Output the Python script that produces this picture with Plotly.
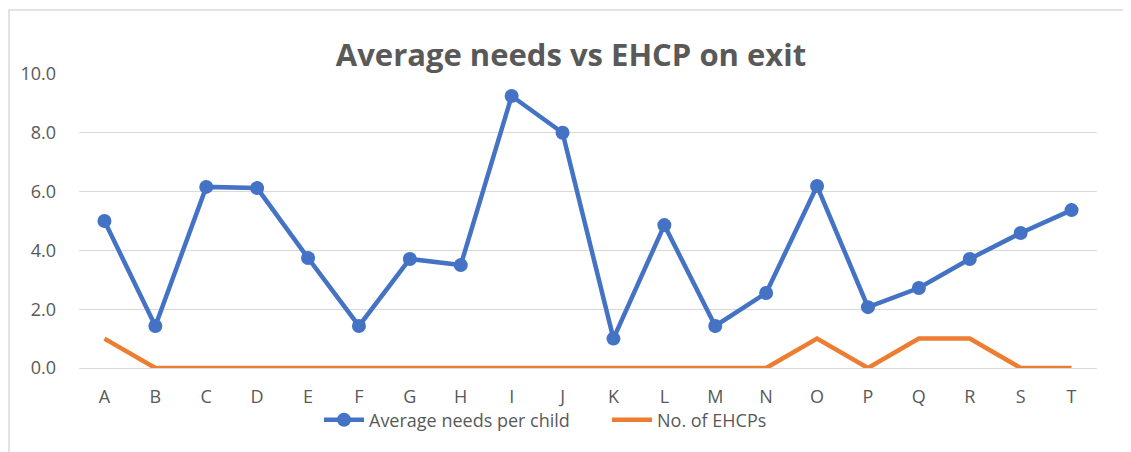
import plotly.graph_objects as go

categories = list("ABCDEFGHIJKLMNOPQRST")
avg_needs = [5.0, 1.43, 6.16, 6.12, 3.74, 1.43, 3.71, 3.5, 9.25, 8.0,
             1.0, 4.86, 1.43, 2.55, 6.19, 2.07, 2.72, 3.71, 4.59, 5.37]
ehcps = [1, 0, 0, 0, 0, 0, 0, 0, 0, 0, 0, 0, 0, 0, 1, 0, 1, 1, 0, 0]
y_ticks = [0, 2, 4, 6, 8, 10]
y_tick_labels = ["0.0", "2.0", "4.0", "6.0", "8.0", "10.0"]

OFF = 8  # default page body margin
W, H = 1131 - OFF, 452 - OFF
PL, PR, PT, PB = 79, 1097, 74, 368  # plot area on screen
L, T = PL - OFF, PT - OFF
R = 1131 - PR
B = 452 - PB
pw, ph = PR - PL, PB - PT


def px_x(p):
    return (p - PL) / pw


def px_y(p):
    return (PB - p) / ph


fig = go.Figure()
fig.add_trace(go.Scatter(
    x=categories, y=avg_needs, name="Average needs per child",
    mode="lines+markers", cliponaxis=False,
    line=dict(color="#4472C4", width=4.5),
    marker=dict(color="#4472C4", size=14),
))
fig.add_trace(go.Scatter(
    x=categories, y=ehcps, name="No. of EHCPs",
    mode="lines", cliponaxis=False,
    line=dict(color="#ED7D31", width=4.5),
))

fig.update_layout(
    width=W, height=H,
    margin=dict(l=L, r=R, t=T, b=B),
    paper_bgcolor="white", plot_bgcolor="white",
    font=dict(family="Open Sans", color="#595959", size=18),
    title=dict(text="<b>Average needs vs EHCP on exit</b>",
               x=px_x(571), xref="paper", xanchor="center",
               y=1 - (55 - OFF) / H, yanchor="middle",
               font=dict(size=31, color="#595959", family="Open Sans")),
    showlegend=True,
    legend=dict(orientation="h", x=px_x(319), xanchor="left",
                y=px_y(420), yanchor="middle", yref="paper",
                entrywidth=233, font=dict(size=18, color="#595959"),
                itemwidth=40, bgcolor="rgba(0,0,0,0)"),
    shapes=[dict(type="rect", xref="paper", yref="paper",
                 x0=px_x(9), x1=px_x(1145), y0=px_y(470), y1=px_y(10),
                 line=dict(color="#d9d9d9", width=1.5), layer="below")],
)
fig.update_xaxes(type="category", range=[-0.5, 19.5], showgrid=False,
                 showline=False, ticks="", tickfont=dict(size=18, color="#595959"),
                 ticklabelstandoff=16)
fig.update_yaxes(range=[0, 10], tickvals=y_ticks, ticktext=y_tick_labels,
                 showgrid=True, gridcolor="#d9d9d9", gridwidth=1,
                 zeroline=True, zerolinecolor="#d9d9d9", zerolinewidth=1,
                 showline=False, ticks="", ticklabelstandoff=22,
                 tickfont=dict(size=18, color="#595959"))

fig.write_html("out.html")
